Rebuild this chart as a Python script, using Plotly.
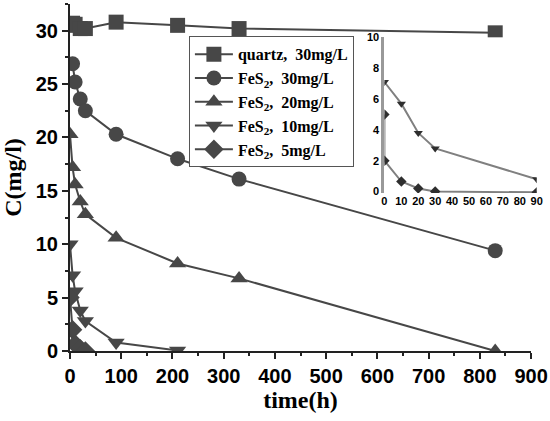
import plotly.graph_objects as go

# main chart data (time in h, concentration in mg/l)
quartz30_t = [0, 5, 10, 20, 30, 90, 210, 330, 830]
quartz30_c = [30.5, 30.7, 30.6, 30.2, 30.2, 30.8, 30.5, 30.2, 29.8]

fes30_t = [5, 10, 20, 30, 90, 210, 330, 830]
fes30_c = [26.9, 25.2, 23.6, 22.5, 20.3, 18.0, 16.1, 9.4]

fes20_t = [0, 5, 10, 20, 30, 90, 210, 330, 830]
fes20_c = [20.3, 17.2, 15.6, 14.0, 12.8, 10.6, 8.2, 6.8, 0.0]

fes10_t = [0, 5, 10, 20, 30, 90, 210]
fes10_c = [10.0, 7.1, 5.6, 3.8, 2.8, 0.8, 0.05]

fes5_t = [0, 5, 10, 20, 30]
fes5_c = [5.0, 2.0, 0.65, 0.2, 0.0]

# inset data
ins10_t = [0, 10, 20, 30, 90]
ins10_c = [7.1, 5.7, 3.8, 2.8, 0.8]
ins5_t = [0, 0, 10, 20, 30, 90]
ins5_c = [5.0, 2.0, 0.65, 0.2, 0.0, -0.05]

LINE = "#474747"
MARK = "#474747"

series = [
    ("quartz,  30mg/L", quartz30_t, quartz30_c, "square"),
    ("FeS<sub>2</sub>,  30mg/L", fes30_t, fes30_c, "circle"),
    ("FeS<sub>2</sub>,  20mg/L", fes20_t, fes20_c, "triangle-up"),
    ("FeS<sub>2</sub>,  10mg/L", fes10_t, fes10_c, "triangle-down"),
    ("FeS<sub>2</sub>,  5mg/L", fes5_t, fes5_c, "diamond"),
]

fig = go.Figure()
for name, t, c, sym in series:
    fig.add_trace(go.Scatter(
        x=t, y=c, name=name, mode="lines+markers",
        line=dict(color=LINE, width=2),
        marker=dict(symbol=sym, size=15, color=MARK),
    ))

for t, c, sym in [(ins10_t, ins10_c, "triangle-down"), (ins5_t, ins5_c, "diamond")]:
    fig.add_trace(go.Scatter(
        x=t, y=c, mode="lines+markers", showlegend=False,
        xaxis="x2", yaxis="y2",
        line=dict(color="#808080", width=2),
        marker=dict(symbol=sym, size=8, color="#2e2e2e"),
    ))

tickfont = dict(family="Liberation Sans", size=20, color="black", weight="bold")
titlefont = dict(family="Liberation Serif", size=24, color="black")

fig.update_layout(
    width=550, height=421,
    margin=dict(l=70, r=10, t=4, b=70),
    paper_bgcolor="white", plot_bgcolor="white",
    showlegend=True,
    legend=dict(
        x=0.253, y=0.907, xanchor="left", yanchor="top",
        bordercolor="#555", borderwidth=1, bgcolor="white",
        font=dict(family="Liberation Serif", size=16, color="black", weight="bold"),
        tracegroupgap=0, itemwidth=38,
    ),
    xaxis=dict(
        domain=[0, 0.981], range=[0, 900], dtick=100, automargin=False,
        showgrid=False, zeroline=False,
        showline=True, linecolor="#222", linewidth=2,
        ticks="outside", ticklen=6, tickwidth=2, tickcolor="#222",
        minor=dict(dtick=50, ticks="outside", ticklen=3, tickwidth=1.5, tickcolor="#222"),
        tickfont=tickfont,
        title=dict(text="<b>time(h)</b>", font=titlefont, standoff=2),
    ),
    yaxis=dict(
        range=[0, 32.5], dtick=5, automargin=False,
        showgrid=False, zeroline=False,
        showline=True, linecolor="#222", linewidth=2,
        ticks="outside", ticklen=6, tickwidth=2, tickcolor="#222",
        minor=dict(dtick=2.5, ticks="outside", ticklen=3, tickwidth=1.5, tickcolor="#222"),
        tickfont=tickfont,
        title=dict(text="<b>C(mg/l)</b>", font=titlefont, standoff=10),
    ),
    xaxis2=dict(
        domain=[0.669, 0.993], range=[0, 90], dtick=10, anchor="y2", automargin=False,
        showgrid=False, zeroline=False, showline=False, ticks="",
        tickfont=dict(family="Liberation Sans", size=11, color="black", weight="bold"),
    ),
    yaxis2=dict(
        domain=[0.455, 0.904], range=[-0.1, 10], dtick=2, anchor="x2", automargin=False,
        showgrid=False, zeroline=False,
        showline=True, linecolor="#999", linewidth=3, ticks="",
        tickfont=dict(family="Liberation Sans", size=11, color="black", weight="bold"),
    ),
)

fig.write_html("out.html", config={"displayModeBar": False},
               post_script="document.body.style.margin='0';")
